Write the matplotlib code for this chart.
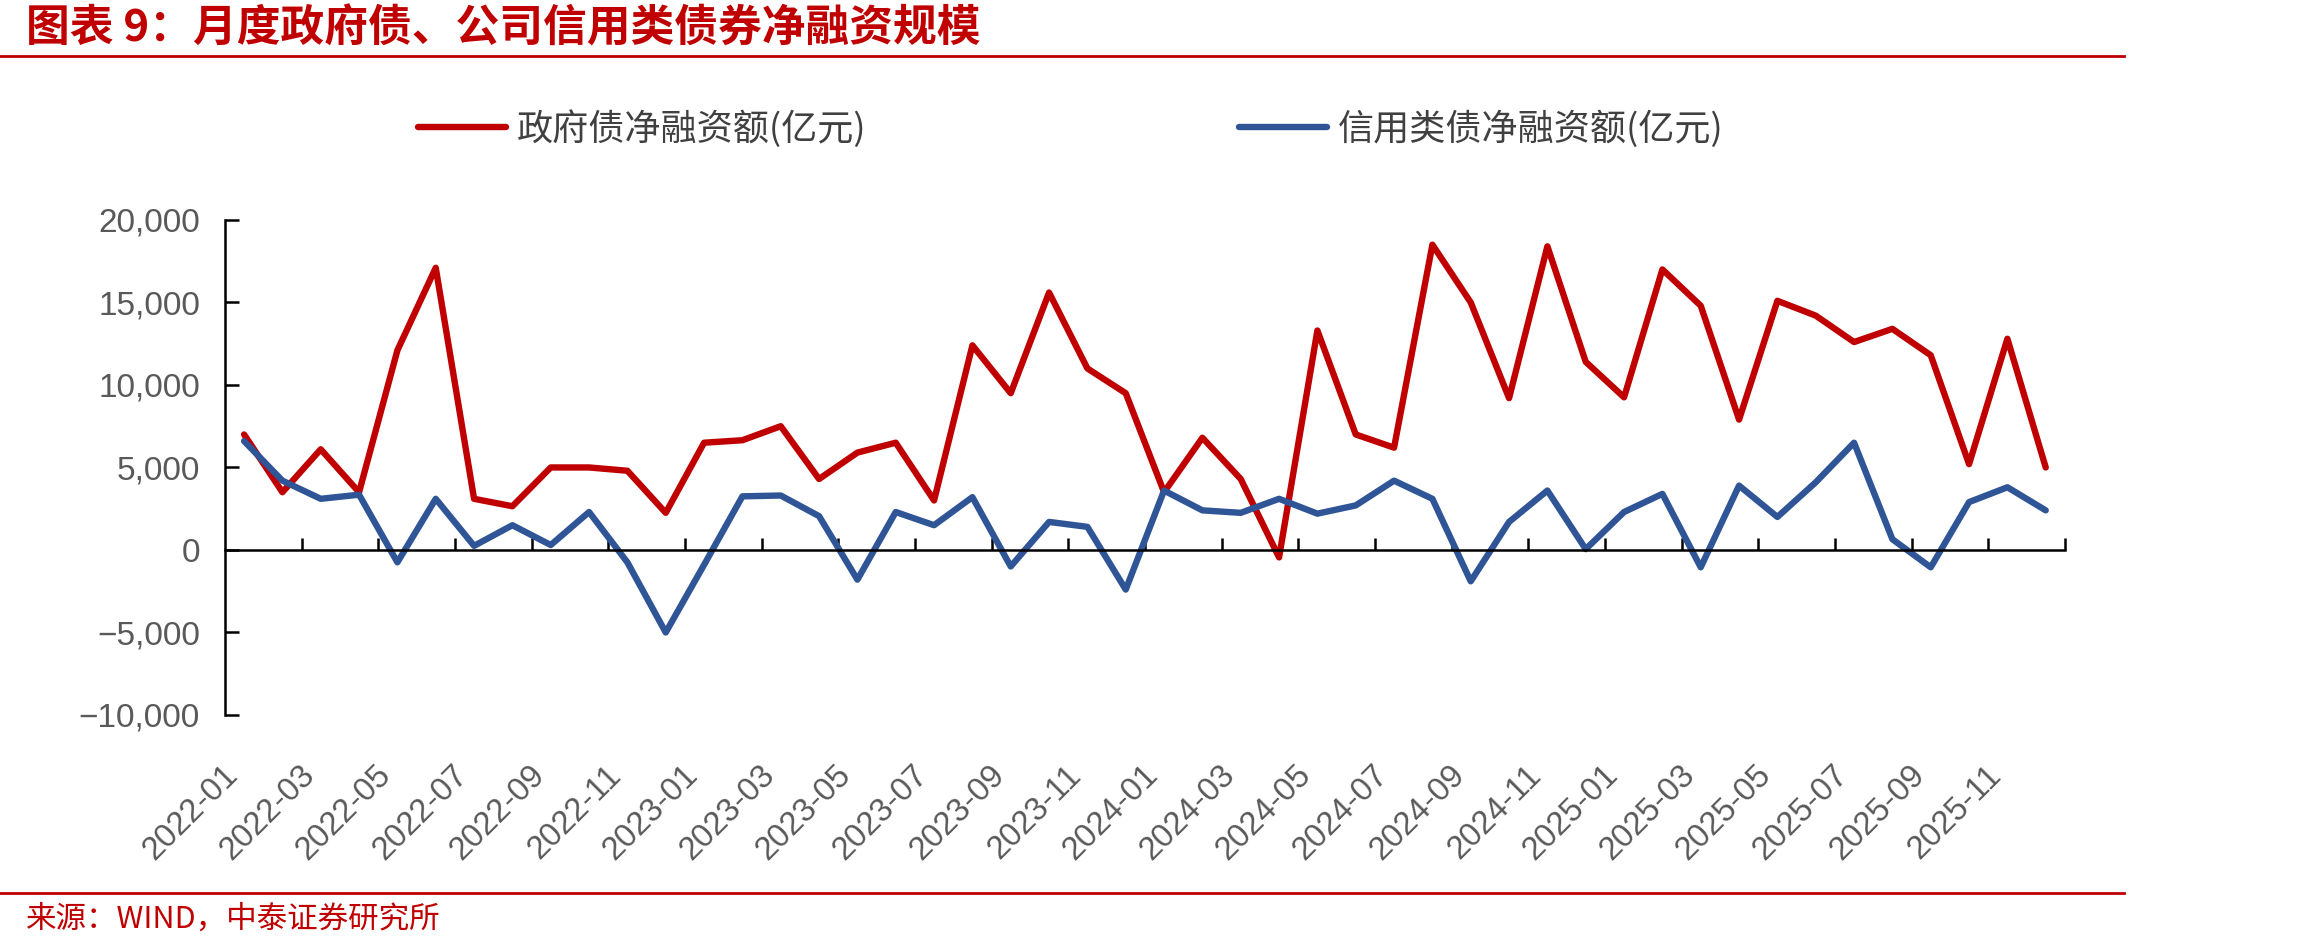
import matplotlib.pyplot as plt
import pandas as pd
from matplotlib.lines import Line2D
from matplotlib.ticker import FuncFormatter

plt.rcParams['font.family'] = ['Noto Sans CJK SC', 'DejaVu Sans']

months = [p.strftime('%Y-%m') for p in pd.period_range('2022-01', '2025-12', freq='M')]

gov_net = [7000, 3500, 6100, 3500, 12100, 17100, 3100, 2650, 5000, 5000, 4800, 2250,
           6500, 6650, 7500, 4300, 5900, 6500, 3000, 12400, 9500, 15600, 11000, 9500,
           3500, 6800, 4300, -450, 13300, 7000, 6200, 18500, 15000, 9200, 18400, 11400,
           9250, 17000, 14800, 7900, 15100, 14200, 12600, 13400, 11800, 5200, 12800, 5000]
credit_net = [6600, 4200, 3100, 3350, -750, 3100, 250, 1500, 300, 2300, -750, -5000,
              -900, 3250, 3300, 2050, -1800, 2300, 1500, 3200, -1000, 1700, 1400, -2400,
              3600, 2400, 2250, 3100, 2200, 2700, 4200, 3100, -1900, 1700, 3600, 50,
              2300, 3400, -1050, 3900, 2000, 4100, 6500, 650, -1050, 2900, 3800, 2400]

labels = ['政府债净融资额(亿元)', '信用类债净融资额(亿元)']
red = '#C00000'
blue = '#2F5597'
gray = '#595959'

fig = plt.figure(figsize=(23.02, 9.48), dpi=100)
ax = fig.add_axes([0.0977, 0.2458, 0.7993, 0.5222])

x = list(range(len(months)))
ax.plot(x, gov_net, color=red, lw=4.6, solid_joinstyle='round', solid_capstyle='round', label=labels[0])
ax.plot(x, credit_net, color=blue, lw=4.6, solid_joinstyle='round', solid_capstyle='round', label=labels[1])

ax.set_xlim(-0.5, len(months) - 0.5)
ax.set_ylim(-10000, 20000)
ax.set_yticks(range(-10000, 20001, 5000))
ax.yaxis.set_major_formatter(FuncFormatter(lambda v, p: f'{int(v):,}'.replace('-', '−')))

for s in ['top', 'right']:
    ax.spines[s].set_visible(False)
ax.spines['left'].set_linewidth(1.8)
ax.spines['bottom'].set_position(('data', 0))
ax.spines['bottom'].set_linewidth(1.8)

# boundary ticks on the zero line, no labels
ax.set_xticks([i + 1.5 for i in range(0, len(months), 2)])
ax.tick_params(axis='x', direction='in', length=9, width=1.8, labelbottom=False)
ax.tick_params(axis='y', direction='in', length=10, width=1.8, pad=18,
               labelsize=24, labelcolor=gray)
for t in ax.get_yticklabels():
    t.set_family(['Liberation Sans Narrow', 'Liberation Sans', 'DejaVu Sans'])

# month labels under the plot
sec = ax.secondary_xaxis('bottom')
sec.set_xticks(x[::2], months[::2])
sec.spines['bottom'].set_visible(False)
sec.tick_params(length=0, pad=32, labelsize=23.5, labelcolor=gray)
for t in sec.get_xticklabels():
    t.set_rotation(45)
    t.set_ha('right')
    t.set_family(['Liberation Sans', 'DejaVu Sans'])

fig.legend(loc='center left', bbox_to_anchor=(0.1816, 0.864), ncol=2, frameon=False,
           fontsize=26, labelcolor='#404040', handlelength=2.44, handletextpad=0.3,
           columnspacing=10.3, borderpad=0, borderaxespad=0)

fig.text(0.0113, 0.970, '图表 9：月度政府债、公司信用类债券净融资规模', color=red,
         fontsize=31.5, fontweight='bold', va='center', ha='left')
fig.add_artist(Line2D([0, 0.9227], [0.941, 0.941], transform=fig.transFigure, color=red, lw=2))
fig.add_artist(Line2D([0, 0.9227], [0.058, 0.058], transform=fig.transFigure, color=red, lw=2))
fig.text(0.0113, 0.0306, '来源：WIND，中泰证券研究所', color=red, fontsize=22,
         va='center', ha='left')

fig.savefig('out.png', dpi=100, facecolor='white')
